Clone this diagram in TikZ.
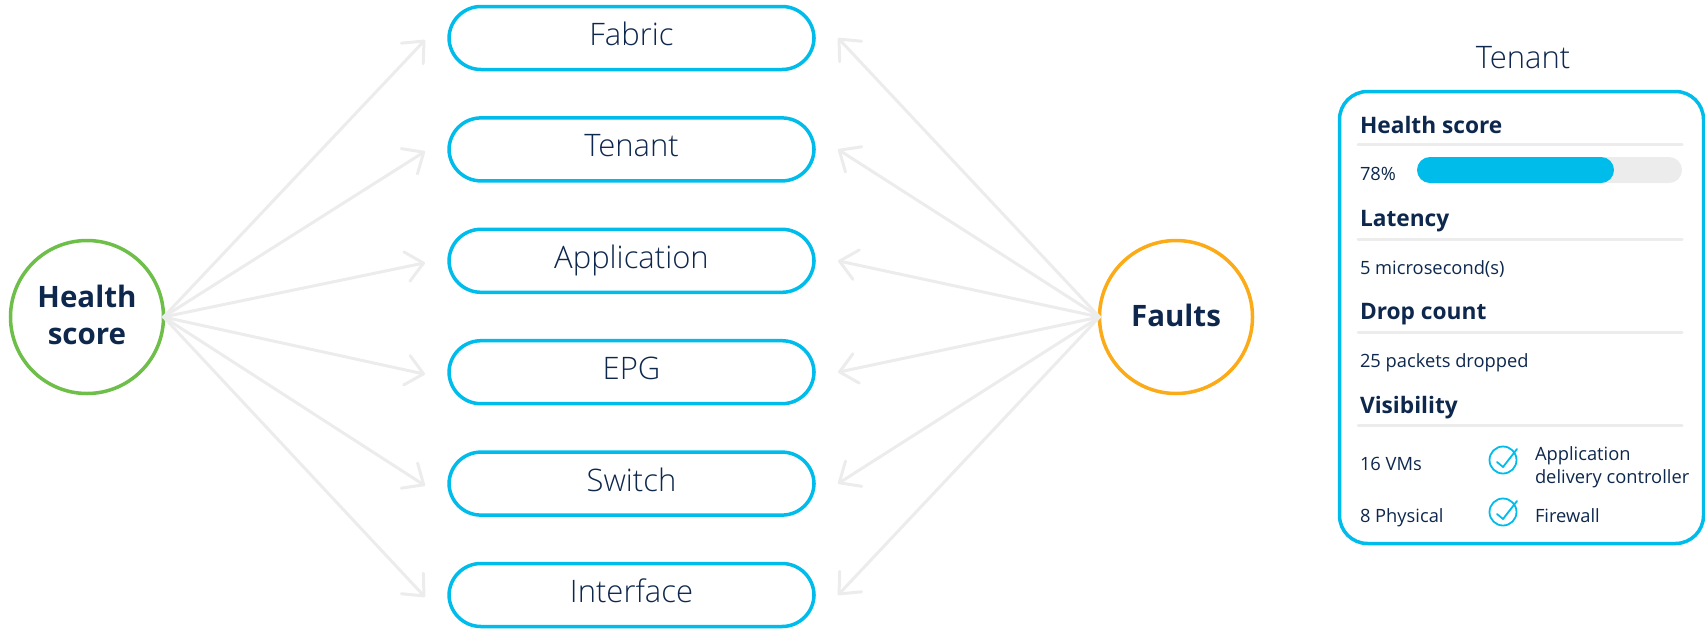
\documentclass[tikz,border=0pt]{standalone}
\usepackage{fontspec}
\setmainfont{Open Sans}
\newfontfamily\lightf{Open Sans Light}
\usetikzlibrary{arrows.meta,calc}
\definecolor{cy}{HTML}{00BCEB}
\definecolor{gn}{HTML}{6EBE4A}
\definecolor{og}{HTML}{FBAB18}
\definecolor{navy}{HTML}{0D274D}
\definecolor{gry}{HTML}{ECECEC}
\tikzset{
  pill/.style={draw=cy,line width=3.5pt,rounded corners=32pt,minimum width=365pt,minimum height=63pt,inner sep=0pt,outer sep=0pt,text=navy,text height=22pt,text depth=7pt,font=\fontsize{31}{36}\selectfont\lightf},
  ring/.style={circle,line width=3.5pt,minimum size=153pt,inner sep=0pt,outer sep=0pt,text=navy,align=center,font=\fontsize{29.5}{37}\selectfont\bfseries},
  flow/.style={draw=gry,line width=3pt,line cap=round,line join=round,-{Straight Barb[length=17pt,width=30pt,line width=3pt,round]}},
  head/.style={anchor=base west,inner sep=0pt,outer sep=0pt,text=navy,font=\fontsize{22.7}{27}\selectfont\bfseries},
  body/.style={anchor=base west,inner sep=0pt,outer sep=0pt,text=navy,font=\fontsize{18.3}{23}\selectfont},
  rulebar/.style={draw=gry,line width=3pt,line cap=round},
  tick/.style={circle,draw=cy,line width=1.8pt,minimum size=27pt,inner sep=0pt,outer sep=0pt},
  tickmark/.style={draw=cy,line width=1.8pt,line cap=round,line join=round},
}
\begin{document}
\begin{tikzpicture}[x=1pt,y=-1pt]
\useasboundingbox (0,0) rectangle (1705,630);
% pills
\node[pill] (fabric) at (631.5,38) {Fabric};
\node[pill] (tenant) at (631.5,149.4) {Tenant};
\node[pill] (app) at (631.5,260.8) {Application};
\node[pill] (epg) at (631.5,372.2) {EPG};
\node[pill] (switch) at (631.5,483.6) {Switch};
\node[pill] (iface) at (631.5,595) {Interface};
% circles
\node[ring,draw=gn] (hs) at (87,317) {};
\node[ring,draw=og] (faults) at (1176,317) {};
\node[text=navy,align=center,inner sep=0pt,font=\fontsize{29.5}{37}\selectfont\bfseries] (hst) at (87,315) {Health\\score};
\node[text=navy,align=center,inner sep=0pt,font=\fontsize{29.5}{37}\selectfont\bfseries] (ft) at (1176,315) {Faults};
% arrows
\foreach \n in {fabric,tenant,app,epg,switch,iface}{
  \coordinate (\n-l) at ($(\n.west)+(-24,2)$);
  \coordinate (\n-r) at ($(\n.east)+(24,0)$);
  \draw[flow] (hs.east) -- (\n-l);
  \draw[flow] (faults.west) -- (\n-r);
}
% card
\node[text=navy,inner sep=0pt,font=\fontsize{31}{37}\selectfont\lightf] (cardtitle) at (1523,58) {Tenant};
\node[draw=cy,line width=3.5pt,rounded corners=28pt,minimum width=364pt,minimum height=452pt,inner sep=0pt] (card) at (1521.5,317.5) {};
\node[head] (h1) at (1360,133) {Health score};
\node[head] (h2) at (1360,226) {Latency};
\node[head] (h3) at (1360,319) {Drop count};
\node[head] (h4) at (1360,413) {Visibility};
\coordinate (r1a) at (1358,144); \coordinate (r1b) at (1682,144);
\coordinate (r2a) at (1358,239); \coordinate (r2b) at (1682,239);
\coordinate (r3a) at (1358,332); \coordinate (r3b) at (1682,332);
\coordinate (r4a) at (1358,425); \coordinate (r4b) at (1682,425);
\draw[rulebar] (r1a) -- (r1b);
\draw[rulebar] (r2a) -- (r2b);
\draw[rulebar] (r3a) -- (r3b);
\draw[rulebar] (r4a) -- (r4b);
\node[body] (pct) at (1360,180.5) {78\%};
\fill[gry,rounded corners=13pt] (1417,157) rectangle (1682,183);
\fill[cy,rounded corners=13pt] (1417,157) rectangle (1614,183);
\node[body] (lat) at (1360,274.5) {5 microsecond(s)};
\node[body] (drop) at (1360,367) {25 packets dropped};
\node[body] (vms) at (1360,470) {16 VMs};
\node[body] (phys) at (1360,522) {8 Physical};
\node[body] (adc1) at (1535,460) {Application};
\node[body] (adc2) at (1535,483) {delivery controller};
\node[body] (fw) at (1535,522) {Firewall};
\node[tick] (t1) at (1503,460) {};
\node[tick] (t2) at (1503,512) {};
\foreach \t in {t1,t2}{
  \draw[tickmark] ($(\t)+(-6,2)$) -- ($(\t)+(0,7)$) -- ($(\t)+(14,-11)$);
}
\end{tikzpicture}
\end{document}
